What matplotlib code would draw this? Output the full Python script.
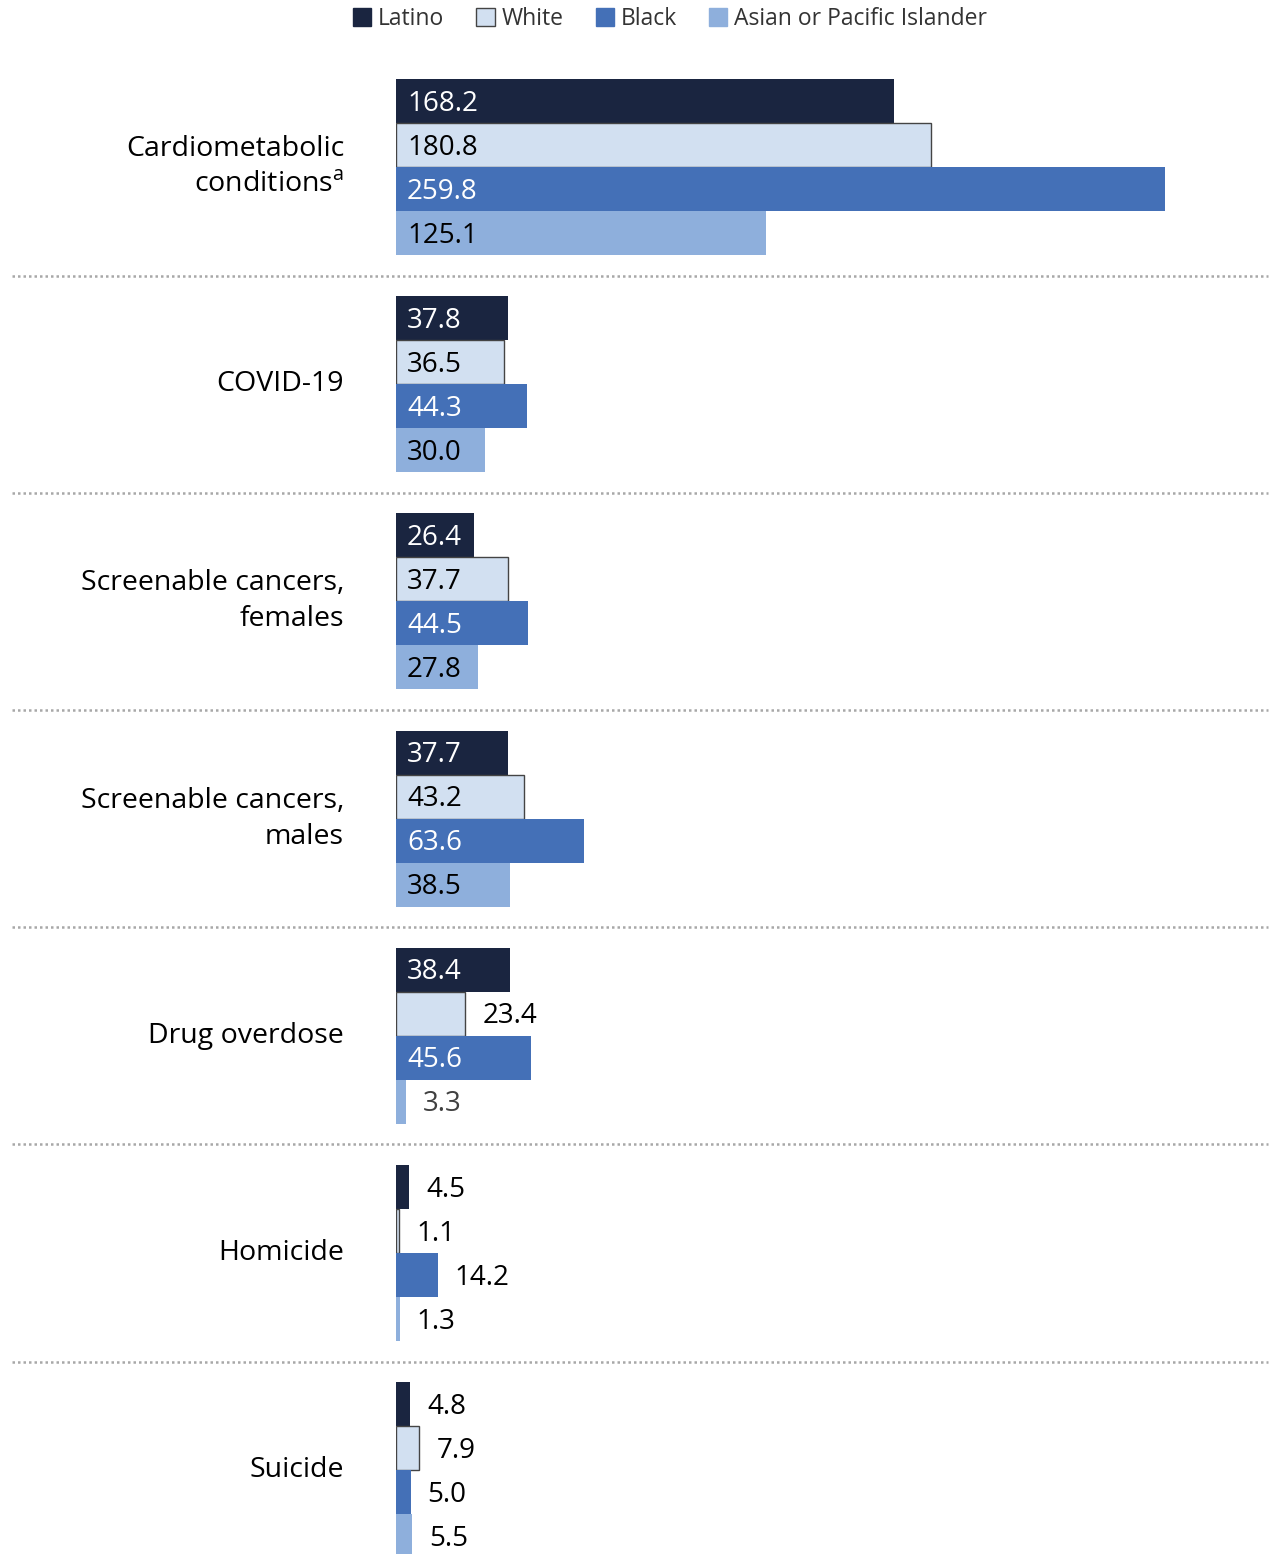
import matplotlib.pyplot as plt
import matplotlib.transforms as mtransforms
from matplotlib.patches import Patch

# datos
causas = ["Cardiometabolic\nconditions$^{\\mathrm{a}}$", "COVID-19",
          "Screenable cancers,\nfemales", "Screenable cancers,\nmales",
          "Drug overdose", "Homicide", "Suicide"]
grupos = ["Latino", "White", "Black", "Asian or Pacific Islander"]
latino = [168.2, 37.8, 26.4, 37.7, 38.4, 4.5, 4.8]
white = [180.8, 36.5, 37.7, 43.2, 23.4, 1.1, 7.9]
black = [259.8, 44.3, 44.5, 63.6, 45.6, 14.2, 5.0]
asian = [125.1, 30.0, 27.8, 38.5, 3.3, 1.3, 5.5]

series = [latino, white, black, asian]
colores = ["#1a2540", "#d2e0f1", "#4470b7", "#8eafdc"]
bordes = ["none", "#444444", "none", "none"]
color_texto = ["white", "black", "white", "black"]

plt.rcParams["font.family"] = ["Open Sans", "DejaVu Sans"]
plt.rcParams["mathtext.fontset"] = "custom"
plt.rcParams["mathtext.rm"] = "Open Sans"

W, H = 1270, 1554
fig = plt.figure(figsize=(W / 100, H / 100), dpi=100)
fig.patch.set_facecolor("white")

x0 = 396
px_por_unidad = 2.96
alto_barra = 44
paso_px = 217.2
paso = paso_px / alto_barra
n = len(causas)
ymax = (n - 1) * paso + 4
alto_ax = ymax * alto_barra

ax = fig.add_axes([x0 / W, (H - 79 - alto_ax) / H, (W - x0) / W, alto_ax / H])
ax.set_xlim(0, (W - x0) / px_por_unidad)
ax.set_ylim(ymax, 0)
ax.axis("off")

umbral = 25
for i in range(n):
    for j, vals in enumerate(series):
        v = vals[i]
        y = i * paso + j + 0.5
        ax.barh(y, v, height=1.0, color=colores[j], edgecolor=bordes[j],
                linewidth=1.0 if bordes[j] != "none" else 0)
        if v >= umbral:
            ax.text(3.7, y + 0.06, f"{v:.1f}", ha="left", va="center",
                    fontsize=20, color=color_texto[j])
        else:
            gris = (i == 4 and j == 3)  # el 3.3 sale en gris en el original
            ax.text(v + 5.7, y + 0.06, f"{v:.1f}", ha="left", va="center",
                    fontsize=20, color="#404040" if gris else "black")

    ax.text(-52 / px_por_unidad, i * paso + 2, causas[i], ha="right",
            va="center", fontsize=20.5, color="black", linespacing=1.38,
            clip_on=False)

# lineas punteadas entre grupos
trans = mtransforms.blended_transform_factory(fig.transFigure, ax.transData)
for i in range(n - 1):
    yl = i * paso + 4 + (paso - 4) / 2
    ax.plot([12 / W, 1268 / W], [yl, yl], transform=trans, color="#a8a8a8",
            linestyle=(0, (1, 1.2)), linewidth=1.8, clip_on=False)

handles = [Patch(facecolor=c, edgecolor=(b if b != "none" else c), linewidth=1)
           for c, b in zip(colores, bordes)]
fig.legend(handles, grupos, loc="center", bbox_to_anchor=(670 / W, 1 - 19 / H),
           ncol=4, frameon=False, fontsize=16.5, handlelength=0.8,
           handleheight=0.8, handletextpad=0.3, columnspacing=1.4,
           labelcolor="#333333")

fig.savefig("out.png", dpi=100, facecolor="white")
